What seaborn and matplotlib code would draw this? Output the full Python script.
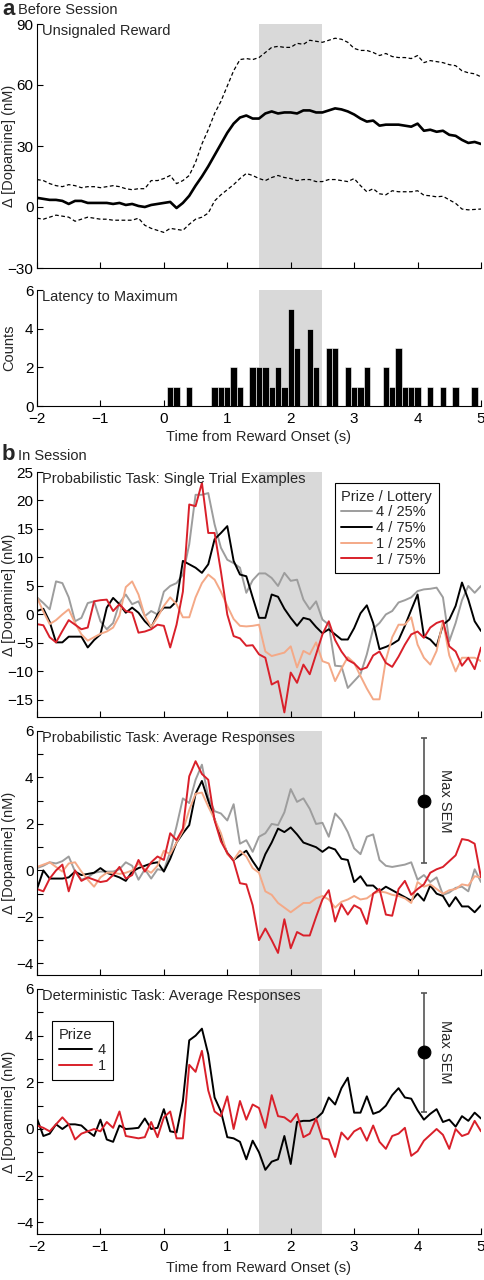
import numpy as np
import pandas as pd
import seaborn as sns
import matplotlib
matplotlib.use("Agg")
import matplotlib.pyplot as plt

# time axis, 0.1 s steps
t = np.round(np.arange(-2, 5.001, 0.1), 1)

# ---- a: before session, unsignaled reward (mean and bounds)
unsig_mean = [4.5, 4, 3.5, 3.5, 3, 1.5, 3, 3, 2, 2,
              2, 2, 1.5, 2, 1, 1.5, 0.5, 0, 1, 1.5,
              2, 2.5, -0.5, 2, 5.5, 10.5, 15, 20, 25.5, 31,
              36.5, 41, 44, 45, 43.5, 43.5, 46, 47, 46, 46.5,
              46.5, 46, 47.5, 47.5, 46.5, 46.5, 47.5, 48.5, 48, 47,
              45.5, 43.5, 42, 42.5, 40, 40.5, 40.5, 40.5, 40, 39.5,
              41, 37.5, 38, 37, 37.5, 35.5, 35, 33, 31.5, 32,
              31]
unsig_upper = [13.5, 13, 11.5, 10.5, 10, 11, 10.5, 9.5, 10, 10,
               9.5, 10, 10.5, 10, 9, 8.5, 9, 9, 13, 13,
               14, 15.5, 11.5, 13, 15.5, 22, 31, 38, 46, 52,
               59.5, 67, 72.5, 73, 72.5, 73.5, 76, 78.5, 79, 78.5,
               78.5, 80.5, 80, 82, 81.5, 81, 82, 83, 82.5, 81,
               78, 77, 77, 76, 74.5, 75.5, 74, 73.5, 73.5, 73,
               74.5, 71, 72, 71.5, 71, 70, 69.5, 67, 66, 65.5,
               64]
unsig_lower = [-5.5, -6, -5, -4, -4.5, -5, -7, -6, -5, -5.5,
               -6, -6, -6.5, -6.5, -6.5, -6.5, -5.5, -9, -10.5, -11.5,
               -12.5, -10.5, -11, -11.5, -8.5, -6, -5, -3, 3, 6,
               8.5, 11, 14, 16.5, 15.5, 14, 13, 14.5, 15.5, 14.5,
               14, 13, 13.5, 13.5, 12.5, 12.5, 13.5, 13.5, 13, 12.5,
               14, 10.5, 7.5, 9, 6.5, 6, 8, 7.5, 7.5, 7.5,
               8, 5.8, 5.5, 5, 5.3, 3.5, 1.8, -1, -1.4, -1.2,
               -1]

# latency to maximum histogram (bin centres, counts)
lat_bins = [0.1, 0.2, 0.4, 0.8, 0.9, 1.0, 1.1, 1.2, 1.4, 1.5, 1.6, 1.7, 1.8, 1.9,
            2.0, 2.1, 2.3, 2.4, 2.6, 2.7, 2.9, 3.0, 3.1, 3.2, 3.5, 3.6, 3.7, 3.8,
            3.9, 4.0, 4.2, 4.4, 4.6, 4.9]
lat_counts = [1, 1, 1, 1, 1, 1, 2, 1, 2, 2, 2, 1, 2, 1,
              5, 3, 4, 2, 3, 3, 2, 1, 1, 2, 2, 1, 3, 1,
              1, 1, 1, 1, 1, 1]

# ---- b: single trial examples
single_4_25 = [3, 2, 0.9, 5.8, 5.5, 3, -1.2, -0.6, 2, 2.3,
               -1.2, -2.6, -1.5, 2, 3.5, 1.8, 2.3, -0.3, 0.6, 0,
               4, 5, 5.5, 7, 12.3, 21, 21, 21.3, 15.8, 11.7,
               9.6, 9, 8.2, 3.8, 6, 7.2, 7.2, 6.4, 5, 7.3,
               5.9, 6.1, 2.6, 0.9, 2.3, -0.9, -1.8, -9, -9.1, -12.9,
               -11.7, -10.5, -7, -2.5, -1.5, 0, 0.6, 2.1, 2.5, 3,
               4.1, 4.4, 4.5, 4.7, 3, -4.7, -1.5, 2.5, 5, 3.8,
               5]
single_4_75 = [0.6, 1, -1.3, -4.9, -4.9, -3.9, -3.9, -3.9, -5.8, -4.5,
               -3.5, 1.2, 2.9, 1.8, 0.3, 1.2, 0.3, -1.2, -2.3, 0,
               1.2, 1.2, 2.3, 9.4, 8.8, 8.2, 7.3, 8.8, 13.2, 14.3,
               15.5, 9.4, 7, 6.7, 3, -0.6, -0.6, 3.5, 3.1, 1,
               -0.6, -2, -0.6, -0.9, -2.2, -3.3, -2.6, -3.5, -4.4, -4.4,
               -2.4, 0.2, 1.6, -1.5, -6.1, -5.7, -5.2, -4.5, -2, 0.8,
               3.5, -3.8, -4.4, -5.6, -1.8, -0.9, 1.5, 5.6, 2.6, -1.2,
               -2.9]
single_1_25 = [3, 0.5, -1.7, -1, 0, 0.9, -1.5, -3.5, -4.6, -4,
               -3.4, -3, -2.3, -0.2, 4.8, 5.8, 3.5, -0.3, -2.2, -0.5,
               1.5, 3, 1.8, -0.5, -0.5, 3, 5.5, 7, 6.1, 4,
               1.5, -0.8, -2, -2.1, -2, -1.8, -6.5, -7.3, -7, -6.7,
               -5.6, -9.3, -6.4, -7, -4.9, -8.2, -8.6, -11.7, -9.5, -7.5,
               -8.5, -10.8, -13, -14.9, -14.9, -8, -4, -1.8, -1.8, -0.5,
               -5.3, -7.6, -8.8, -6.4, -1.2, -7.2, -10, -7.6, -7.6, -7.6,
               -8.2]
single_1_75 = [-1.7, -1.9, -4, -4.9, -2.9, -1, -1.8, -2.6, -2.3, 2.3,
               2.5, 2.6, 0.6, 1.8, 0.6, 0.3, -3.2, -3, -2.6, -1.8,
               -2, -5.8, -1.8, 4, 19.3, 19, 23.1, 14.3, 14.3, 7.5,
               0, -3.8, -4.2, -5.5, -5.4, -7, -7.6, -12.3, -11.7, -17.2,
               -10.2, -12, -8.8, -10.5, -7, -3.5, -1.2, -4.5, -6.5, -8,
               -8.6, -9.7, -9.3, -7.2, -6.5, -8.5, -9.2, -7.4, -5.3, -3.5,
               -3, -4.1, -2.3, -1.5, -1.1, -5.6, -6.5, -9, -7.6, -9.6,
               -5.8]

# probabilistic task averages
avg_4_25 = [0.1, 0.2, 0.35, 0.3, 0.4, 0.6, -0.05, -0.4, -0.3, -0.1,
            -0.05, -0.05, -0.05, 0.05, 0.35, 0.2, -0.4, 0.05, -0.35, 0.05,
            0.0, 0.8, 1.9, 3.1, 2.9, 3.9, 4.55, 3.15, 2.55, 2.45,
            2.15, 2.85, 1.15, 1.3, 0.8, 1.45, 1.6, 2.0, 1.95, 2.5,
            3.5, 2.95, 3.1, 2.65, 2.0, 2.05, 1.45, 2.45, 2.15, 1.65,
            0.95, 0.7, 1.45, 1.55, 0.45, 0.2, 0.15, 0.2, 0.25, 0.35,
            -0.4, -0.2, -0.5, -0.3, -1.05, -0.95, -0.75, -0.7, -0.9, 0.05,
            -0.5]
avg_4_75 = [-0.8, 0.0, -0.35, -0.35, -0.35, -0.3, -0.05, -0.2, -0.15, -0.1,
            0.1, -0.1, -0.2, -0.3, -0.45, -0.05, 0.1, 0.2, 0.3, 0.35,
            -0.05, 0.5, 1.2, 1.6, 1.95, 3.3, 3.85, 3.0, 2.2, 1.4,
            0.75, 0.45, 0.65, 0.85, 0.4, 0.0, 0.7, 1.2, 1.8, 1.65,
            1.85, 1.55, 1.2, 1.1, 1.0, 0.8, 1.0, 0.9, 0.5, 0.45,
            -0.5, -0.25, -0.65, -0.65, -0.9, -0.7, -0.85, -1.0, -1.15, -1.3,
            -1.0, -1.3, -0.65, -1.0, -1.1, -1.55, -1.15, -1.55, -1.55, -1.8,
            -1.5]
avg_1_25 = [0.15, 0.25, 0.35, 0.15, -0.05, 0.3, 0.35, -0.05, -0.4, -0.7,
            -0.3, -0.1, -0.1, -0.15, -0.1, 0.0, 0.3, 0.05, -0.1, 0.2,
            0.85, 0.7, 1.2, 1.7, 2.6, 3.3, 3.35, 2.75, 2.2, 1.6,
            0.7, 0.45, 0.85, 0.6, 0.1, -0.1, -0.9, -1.05, -1.4, -1.6,
            -1.8, -1.6, -1.4, -1.4, -1.2, -1.1, -1.25, -1.6, -1.35, -1.25,
            -1.1, -1.25, -1.2, -1.0, -0.9, -0.95, -1.05, -1.1, -1.2, -1.4,
            -0.5, -0.7, -0.6, -0.8, -1.0, -0.85, -0.8, -0.6, -0.65, -0.25,
            -0.3]
avg_1_75 = [-0.8, -0.9, -0.35, 0.0, 0.25, -0.9, 0.0, -0.45, -0.3, -0.4,
            -0.5, -0.45, -0.2, 0.15, -0.35, -0.2, 0.45, -0.05, 0.35, 0.6,
            0.45, 1.6, 1.3, 1.8, 4.05, 4.7, 4.15, 3.9, 2.15, 1.25,
            0.75, 0.4, -0.55, -0.6, -1.5, -3.0, -2.5, -3.0, -3.55, -2.1,
            -3.35, -2.65, -2.8, -2.8, -2.0, -1.25, -0.85, -2.2, -1.45, -1.9,
            -1.5, -1.65, -2.3, -1.0, -0.8, -1.9, -1.95, -0.8, -0.45, -1.05,
            -0.8, -0.6, -0.1, 0.05, 0.15, 0.4, 0.65, 1.35, 1.3, 1.15,
            -0.3]

# deterministic task averages
det_4 = [0.45, -0.3, -0.2, 0.2, 0.0, 0.2, 0.2, 0.15, -0.1, -0.3,
         0.4, -0.45, -0.55, 0.15, 0.0, 0.02, 0.05, 0.45, 0.0, 0.05,
         0.85, -0.1, -0.15, 1.2, 3.8, 4.0, 4.3, 3.2, 1.35, 0.75,
         -0.35, -0.4, -0.55, -1.3, -0.5, -1.0, -1.75, -1.4, -1.3, -0.3,
         -1.5, 0.3, 0.35, 0.35, 0.45, 0.7, 1.35, 1.05, 1.75, 2.2,
         0.7, 0.7, 1.4, 0.65, 0.75, 1.0, 1.45, 1.75, 1.35, 1.3,
         0.8, 0.4, 0.65, 0.85, 0.3, 0.4, 0.1, 0.55, 0.35, 0.7,
         0.45]
det_1 = [0.15, 0.05, -0.1, 0.2, 0.5, 0.2, -0.45, -0.2, -0.1, 0.0,
         -0.1, 0.3, 0.05, 0.75, -0.3, -0.35, -0.4, -0.35, 0.3, -0.35,
         0.5, 0.75, -0.4, -0.4, 2.75, 2.45, 3.35, 1.65, 0.75, 0.55,
         1.4, 0.0, 1.2, 0.4, 1.05, 0.9, 0.05, 1.45, 0.55, 0.5,
         0.3, 0.65, -0.35, -0.2, 0.45, -0.4, -0.45, -1.2, -0.15, -0.45,
         -0.1, 0.05, -0.5, 0.15, -0.55, -0.85, -0.3, -0.2, 0.05, -1.15,
         -0.95, -0.5, -0.25, 0.0, -0.25, -0.85, 0.0, -0.3, -0.2, 0.35,
         -0.1]

prob_labels = ["4 / 25%", "4 / 75%", "1 / 25%", "1 / 75%"]
prob_colors = ["#9d9d9d", "#000000", "#f4a987", "#d9202a"]
det_labels = ["4", "1"]
det_colors = ["#000000", "#d9202a"]

sem_prob = (4.1, 3.0, 2.7)
sem_det = (4.1, 3.3, 2.55)

sns.set_theme(style="ticks")
plt.rcParams["font.family"] = ["Liberation Sans", "DejaVu Sans"]
plt.rcParams["font.size"] = 10
plt.rcParams["axes.linewidth"] = 0.8

fig = plt.figure(figsize=(4.84, 12.8), dpi=100)
L, W = 37 / 484, 444 / 484


def add(top, bottom):
    return fig.add_axes([L, 1 - bottom / 1280, W, (bottom - top) / 1280])


ax1 = add(24, 268)
ax2 = add(290, 406)
ax3 = add(472, 717)
ax4 = add(731, 975)
ax5 = add(989, 1234)

YLAB = "\u0394 [Dopamine] (nM)"


def lab(v):
    return str(v).replace("-", "\u2212")


def style(ax, ylim, yticks, ylabels, xlab, xpad=3):
    ax.axvspan(1.5, 2.5, color="#d9d9d9", lw=0, zorder=0)
    ax.set_xlim(-2, 5)
    ax.set_ylim(*ylim)
    ax.set_xticks(range(-2, 6))
    if xlab:
        ax.set_xticklabels([lab(v) for v in range(-2, 6)])
        ax.set_xlabel("Time from Reward Onset (s)", fontsize=10.5, labelpad=xpad)
    else:
        ax.set_xticklabels([])
        ax.set_xlabel("")
    ax.set_yticks(yticks)
    ax.set_yticklabels(ylabels)
    ax.tick_params(direction="in", length=4, width=0.8, labelsize=11,
                   colors="black", pad=2.5)
    ax.tick_params(axis="x", pad=4.5)
    for s in ["left", "bottom"]:
        ax.spines[s].set_color("black")
        ax.spines[s].set_linewidth(0.8)
    sns.despine(ax=ax)
    ax.set_facecolor("white")


def corner(ax, txt):
    ax.text(0.012, 1.0, txt, transform=ax.transAxes, ha="left", va="top",
            fontsize=10.5)


def sem_bar(ax, sem):
    ax.errorbar(sem[0], sem[1], yerr=sem[2], fmt="none",
                ecolor="#555555", elinewidth=1.2, capsize=2.5, capthick=1.2)
    sns.scatterplot(x=[sem[0]], y=[sem[1]], ax=ax, color="black",
                    s=85, edgecolor="black", zorder=5, legend=False)
    ax.text(4.43, sem[1], "Max SEM", rotation=-90, ha="center", va="center",
            fontsize=10.5)


# ---- panel a, top
sns.lineplot(x=t, y=unsig_upper, ax=ax1, color="black", lw=0.9,
             linestyle=(0, (3, 2)), errorbar=None)
sns.lineplot(x=t, y=unsig_lower, ax=ax1, color="black", lw=0.9,
             linestyle=(0, (3, 2)), errorbar=None)
sns.lineplot(x=t, y=unsig_mean, ax=ax1, color="black", lw=1.9, errorbar=None)
style(ax1, (-30, 90), [-30, 0, 30, 60, 90], [lab(v) for v in [-30, 0, 30, 60, 90]], False)
ax1.set_ylabel(YLAB, fontsize=10.5)
corner(ax1, "Unsignaled Reward")

# ---- panel a, histogram
lat = pd.DataFrame({"latency": lat_bins, "n": lat_counts})
sns.histplot(data=lat, x="latency", weights="n", binwidth=0.1,
             binrange=(0.05, 4.95), color="black", edgecolor="white",
             linewidth=0.4, alpha=1, ax=ax2)
style(ax2, (0, 6), [0, 2, 4, 6], ["0", "2", "4", "6"], True, xpad=3)
ax2.set_ylabel("Counts", fontsize=10.5)
corner(ax2, "Latency to Maximum")

# ---- panel b, single trials
for ys, c, lb in zip([single_4_25, single_4_75, single_1_25, single_1_75],
                     prob_colors, prob_labels):
    sns.lineplot(x=t, y=ys, ax=ax3, color=c, lw=1.4, label=lb, errorbar=None)
style(ax3, (-18, 25), list(range(-15, 26, 5)), [lab(v) for v in range(-15, 26, 5)], False)
ax3.set_ylabel(YLAB, fontsize=10.5)
corner(ax3, "Probabilistic Task: Single Trial Examples")
leg = ax3.legend(title="Prize / Lottery", loc="upper left",
                 bbox_to_anchor=(0.671, 0.955), frameon=True, fancybox=False,
                 edgecolor="black", framealpha=1, fontsize=10.5, title_fontsize=10.5,
                 handlelength=2.1, handletextpad=0.25, labelspacing=0.12,
                 borderpad=0.45, borderaxespad=0, alignment="left")
leg.get_frame().set_linewidth(0.8)

# ---- panel b, probabilistic averages
for ys, c in zip([avg_4_25, avg_4_75, avg_1_25, avg_1_75], prob_colors):
    sns.lineplot(x=t, y=ys, ax=ax4, color=c, lw=1.4, errorbar=None)
ev = list(range(-4, 7))
style(ax4, (-4.5, 6), ev, [lab(v) if v % 2 == 0 else "" for v in ev], False)
ax4.set_ylabel(YLAB, fontsize=10.5)
corner(ax4, "Probabilistic Task: Average Responses")
sem_bar(ax4, sem_prob)

# ---- panel b, deterministic averages
for ys, c, lb in zip([det_4, det_1], det_colors, det_labels):
    sns.lineplot(x=t, y=ys, ax=ax5, color=c, lw=1.4, label=lb, errorbar=None)
style(ax5, (-4.5, 6), ev, [lab(v) if v % 2 == 0 else "" for v in ev], True, xpad=5)
ax5.set_ylabel(YLAB, fontsize=10.5)
corner(ax5, "Deterministic Task: Average Responses")
sem_bar(ax5, sem_det)
line_handles = [h for h in ax5.get_lines() if h.get_label() in det_labels]
leg = ax5.legend(handles=line_handles, labels=det_labels, title="Prize",
                 loc="upper left", bbox_to_anchor=(0.034, 0.869),
                 frameon=True, fancybox=False, edgecolor="black", framealpha=1,
                 fontsize=10.5, title_fontsize=10.5, handlelength=2.3,
                 handletextpad=0.4, labelspacing=0.12, borderpad=0.45,
                 borderaxespad=0, alignment="left")
leg.get_frame().set_linewidth(0.8)

for ax in [ax1, ax2, ax3, ax4, ax5]:
    ax.yaxis.set_label_coords(-0.047, 0.5)

# panel letters
fig.text(2 / 484, 1 - 9.5 / 1280, "a", fontsize=16, fontweight="bold", va="center")
fig.text(18 / 484, 1 - 9.5 / 1280, "Before Session", fontsize=10.5, va="center")
fig.text(2 / 484, 1 - 455 / 1280, "b", fontsize=16, fontweight="bold", va="center")
fig.text(18 / 484, 1 - 456 / 1280, "In Session", fontsize=10.5, va="center")

fig.savefig("out.png", dpi=100, facecolor="white")
